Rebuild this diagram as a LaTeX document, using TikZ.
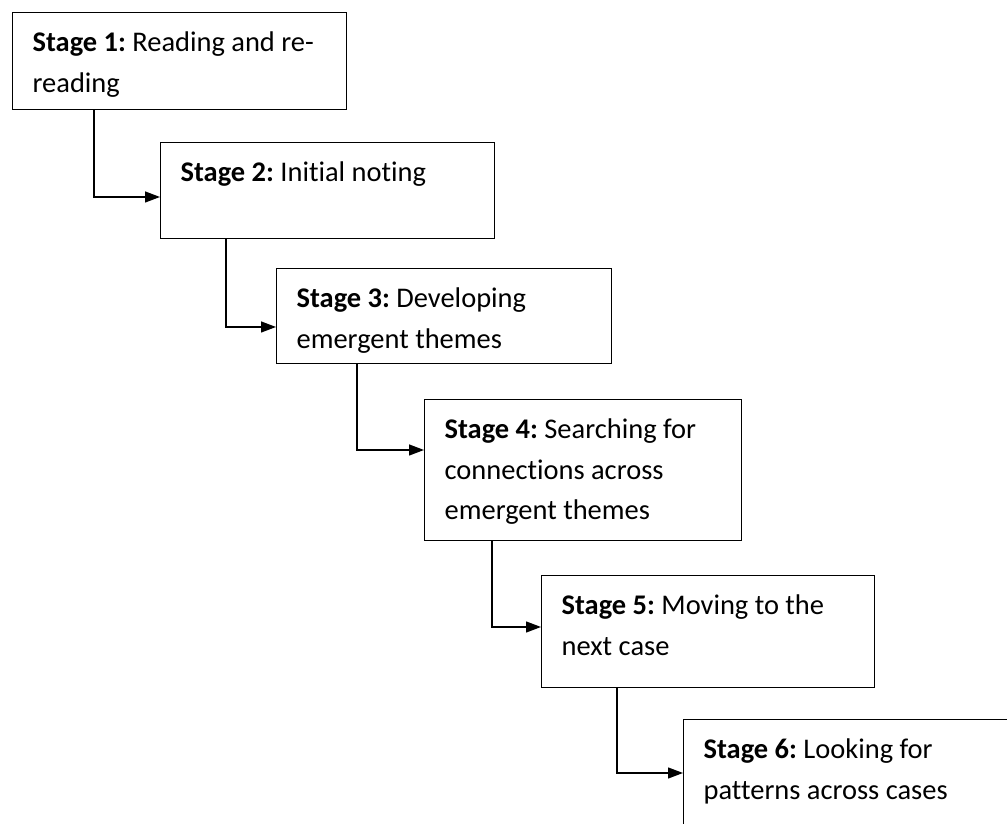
\documentclass[tikz,border=0pt]{standalone}
\usepackage{fontspec}
\setmainfont{Carlito}[Ligatures=NoCommon]
\frenchspacing
\usetikzlibrary{arrows.meta}
\tikzset{
    stage-box/.style = {draw, line width=0.75pt, rectangle, anchor=north west, align=flush left, inner xsep=0.4cm, inner ysep=0pt, text height=0.78cm, font=\fontsize{16.2}{23}\selectfont},
    stage-arrow/.style = {line width=0.75pt, -{Triangle[length=0.3cm, width=0.22cm]}},
}
\begin{document}
\begin{tikzpicture}[x=0.02cm, y=-0.02cm]
\clip (0,0) rectangle (1007,824);
\node[stage-box, text width=5.88cm, text depth=1.16cm] (s1) at (12,12) {\textbf{Stage 1:} Reading and re-\\reading};
\node[stage-box, text width=5.88cm, text depth=1.14cm] (s2) at (160,142) {\textbf{Stage 2:} Initial noting};
\node[stage-box, text width=5.90cm, text depth=1.12cm] (s3) at (276,268) {\textbf{Stage 3:} Developing\\emergent themes};
\node[stage-box, text width=5.54cm, text depth=2.04cm] (s4) at (424,399) {\textbf{Stage 4:} Searching for\\connections across\\emergent themes};
\node[stage-box, text width=5.86cm, text depth=1.46cm] (s5) at (541,575) {\textbf{Stage 5:} Moving to the\\next case};
\node[stage-box, text width=5.88cm, text depth=1.50cm] (s6) at (683,719) {\textbf{Stage 6:} Looking for\\patterns across cases};
\draw[stage-arrow] ([xshift=1.64cm]s1.south west) |- ([yshift=-1.10cm]s2.north west);
\draw[stage-arrow] ([xshift=1.32cm]s2.south west) |- ([yshift=-1.18cm]s3.north west);
\draw[stage-arrow] ([xshift=1.62cm]s3.south west) |- ([yshift=-1.02cm]s4.north west);
\draw[stage-arrow] ([xshift=1.36cm]s4.south west) |- ([yshift=-1.04cm]s5.north west);
\draw[stage-arrow] ([xshift=1.52cm]s5.south west) |- ([yshift=-1.08cm]s6.north west);
\end{tikzpicture}
\end{document}
